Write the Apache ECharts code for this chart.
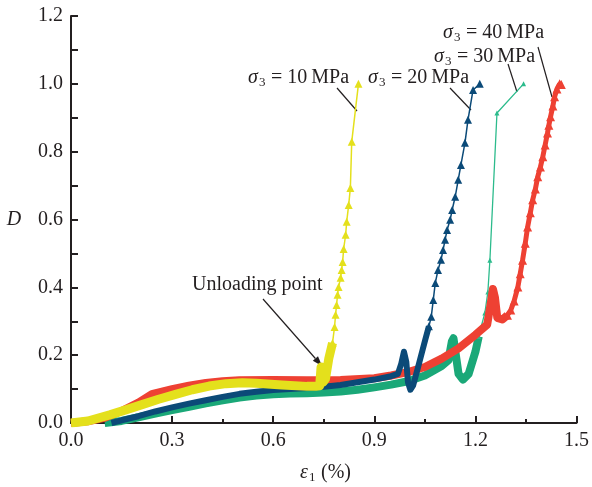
<!DOCTYPE html>
<html><head><meta charset="utf-8">
<script src="https://cdn.jsdelivr.net/npm/echarts@6/dist/echarts.min.js"></script>
<style>html,body{margin:0;padding:0;background:#fff}#c{width:592px;height:487px}</style>
</head><body><div id="c"></div>
<script>
// ---- data (ε1 %, D) ----
const yellowBand = [[0,0],[0.05,0.006],[0.115,0.024],[0.16,0.038],[0.213,0.055],[0.26,0.07],[0.313,0.085],[0.36,0.098],[0.41,0.109],[0.46,0.116],[0.508,0.119],[0.55,0.117],[0.626,0.112],[0.7,0.108],[0.726,0.108],[0.738,0.11],[0.742,0.165],[0.748,0.12],[0.755,0.13],[0.765,0.19],[0.776,0.236]];
const yellowTail = [[0.776,0.236],[0.782,0.283],[0.785,0.319],[0.788,0.348],[0.791,0.378],[0.794,0.401],[0.80,0.428],[0.803,0.451],[0.806,0.475],[0.809,0.513],[0.815,0.555],[0.818,0.593],[0.824,0.643],[0.829,0.693],[0.833,0.829],[0.853,1.0]];
const blueBand = [[0.12,0],[0.15,0.008],[0.2,0.02],[0.25,0.034],[0.3,0.046],[0.35,0.057],[0.4,0.067],[0.45,0.077],[0.5,0.086],[0.55,0.092],[0.6,0.097],[0.65,0.1],[0.7,0.103],[0.75,0.107],[0.8,0.112],[0.85,0.12],[0.9,0.128],[0.95,0.138],[0.97,0.145],[0.98,0.175],[0.988,0.21],[0.995,0.18],[1.0,0.12],[1.007,0.098],[1.015,0.11],[1.03,0.165],[1.051,0.245],[1.062,0.285]];
const blueTail = [[1.062,0.285],[1.069,0.313],[1.075,0.363],[1.081,0.413],[1.089,0.451],[1.098,0.481],[1.104,0.51],[1.11,0.54],[1.116,0.569],[1.125,0.599],[1.131,0.628],[1.14,0.667],[1.149,0.717],[1.157,0.761],[1.169,0.826],[1.178,0.894],[1.193,0.982],[1.213,1.0]];
const greenBand = [[0.1,0],[0.15,0.006],[0.2,0.017],[0.25,0.028],[0.3,0.038],[0.35,0.048],[0.4,0.058],[0.45,0.067],[0.5,0.075],[0.55,0.081],[0.6,0.085],[0.65,0.087],[0.7,0.088],[0.75,0.09],[0.8,0.093],[0.85,0.098],[0.9,0.105],[0.95,0.113],[1.0,0.123],[1.05,0.14],[1.1,0.168],[1.12,0.185],[1.13,0.24],[1.135,0.25],[1.142,0.2],[1.15,0.145],[1.163,0.128],[1.18,0.145],[1.2,0.21],[1.21,0.255]];
const greenTail = [[1.21,0.255],[1.216,0.28],[1.228,0.324],[1.237,0.386],[1.243,0.48],[1.264,0.914],[1.343,1.0]];
const redBand = [[0,0],[0.05,0.005],[0.1,0.015],[0.15,0.035],[0.2,0.06],[0.24,0.085],[0.3,0.1],[0.35,0.11],[0.4,0.118],[0.45,0.123],[0.5,0.126],[0.6,0.127],[0.7,0.126],[0.8,0.127],[0.9,0.132],[0.95,0.14],[1.0,0.15],[1.05,0.165],[1.1,0.19],[1.15,0.22],[1.2,0.26],[1.235,0.29],[1.245,0.35],[1.252,0.395],[1.258,0.37],[1.265,0.31],[1.28,0.305],[1.295,0.318]];
const redTail = [[1.295,0.318],[1.305,0.333],[1.315,0.36],[1.326,0.401],[1.333,0.44],[1.34,0.48],[1.348,0.53],[1.355,0.578],[1.363,0.62],[1.37,0.658],[1.378,0.69],[1.385,0.726],[1.393,0.755],[1.4,0.785],[1.407,0.82],[1.414,0.855],[1.418,0.878],[1.423,0.903],[1.43,0.935],[1.435,0.962],[1.442,0.985],[1.45,1.0],[1.455,0.998]];

const xMin = 0, xMax = 1.5, xStep = 0.3;
const yMin = 0, yMax = 1.2, yStep = 0.2;
const seriesLabels = ['10', '20', '30', '40'];

const C = {yellow:'#e4e01c', blue:'#0b4a78', green:'#1aa878', greenL:'#2cbb8c', red:'#ee4133', ink:'#231f20'};
const FF = '"Liberation Serif","DejaVu Serif",serif';

function band(data, color, w, z){
  return {type:'line', data, showSymbol:false, symbol:'none', z,
    lineStyle:{color, width:w, join:'round', cap:'butt'}, itemStyle:{color}};
}
function tail(data, color, w, sym, z){
  return {type:'line', data, symbol:'triangle', symbolSize:sym, showSymbol:true, z,
    lineStyle:{color, width:w}, itemStyle:{color}};
}

function sigmaLabel(x, y, val){
  return {type:'group', x, y, children:[
    {type:'text', x:0, y:0, style:{text:'σ', font:'italic 20px '+FF, fill:C.ink, textVerticalAlign:'middle'}},
    {type:'text', x:11, y:5, style:{text:'3', font:'13px '+FF, fill:C.ink, textVerticalAlign:'middle'}},
    {type:'text', x:18, y:0, style:{text:' = '+val+'\u2009MPa', font:'20px '+FF, fill:C.ink, textVerticalAlign:'middle'}}
  ]};
}
function leader(x1,y1,x2,y2){
  return {type:'line', shape:{x1,y1,x2,y2}, style:{stroke:C.ink, lineWidth:1.2}};
}

const chart = echarts.init(document.getElementById('c'));
chart.setOption({
  animation:false,
  grid:{left:71, right:13, top:16, bottom:64},
  xAxis:{type:'value', min:xMin, max:xMax, interval:xStep,
    axisLine:{show:true, lineStyle:{color:C.ink, width:2}},
    axisTick:{show:true, inside:true, length:7, lineStyle:{color:C.ink, width:2}},
    minorTick:{show:true, splitNumber:2, length:4, lineStyle:{color:C.ink, width:2}},
    splitLine:{show:false},
    axisLabel:{color:C.ink, fontFamily:FF, fontSize:20, margin:8, formatter:v=>v.toFixed(1)}
  },
  yAxis:{type:'value', min:yMin, max:yMax, interval:yStep,
    axisLine:{show:true, lineStyle:{color:C.ink, width:2}},
    axisTick:{show:true, inside:true, length:7, lineStyle:{color:C.ink, width:2}},
    minorTick:{show:true, splitNumber:2, length:7, lineStyle:{color:C.ink, width:2}},
    splitLine:{show:false},
    axisLabel:{color:C.ink, fontFamily:FF, fontSize:20, margin:8, formatter:v=>v.toFixed(1)}
  },
  series:[
    band(greenBand, C.green, 8, 1),
    tail(greenTail, C.greenL, 1.3, 5, 1),
    band(redBand, C.red, 8, 2),
    tail(redTail, C.red, 5, 9, 2),
    band(blueBand, C.blue, 6, 3),
    tail(blueTail, C.blue, 1.5, 8, 3),
    band(yellowBand, C.yellow, 9, 4),
    tail(yellowTail, C.yellow, 1.5, 8, 4)
  ],
  graphic:[
    {type:'text', x:14, y:220, style:{text:'D', font:'italic 20px '+FF, fill:C.ink, textAlign:'center', textVerticalAlign:'middle'}},
    {type:'group', x:300, y:473, children:[
      {type:'text', x:0, y:0, style:{text:'ε', font:'italic 20px '+FF, fill:C.ink, textVerticalAlign:'middle'}},
      {type:'text', x:9, y:5, style:{text:'1', font:'13px '+FF, fill:C.ink, textVerticalAlign:'middle'}},
      {type:'text', x:16, y:0, style:{text:' (%)', font:'20px '+FF, fill:C.ink, textVerticalAlign:'middle'}}
    ]},
    sigmaLabel(248, 78, seriesLabels[0]),
    sigmaLabel(368, 78, seriesLabels[1]),
    sigmaLabel(434, 57, seriesLabels[2]),
    sigmaLabel(443, 33, seriesLabels[3]),
    leader(337,88,357,111),
    leader(450,88,471,110),
    leader(508,64,517,92),
    leader(538,47,552,97),
    {type:'text', x:192, y:285, style:{text:'Unloading point', font:'20px '+FF, fill:C.ink, textVerticalAlign:'middle'}},
    leader(263,299,315.4,358.5),
    {type:'polygon', shape:{points:[[322,366],[312.8,360.8],[318.0,356.2]]}, style:{fill:C.ink}}
  ]
});
</script></body></html>
